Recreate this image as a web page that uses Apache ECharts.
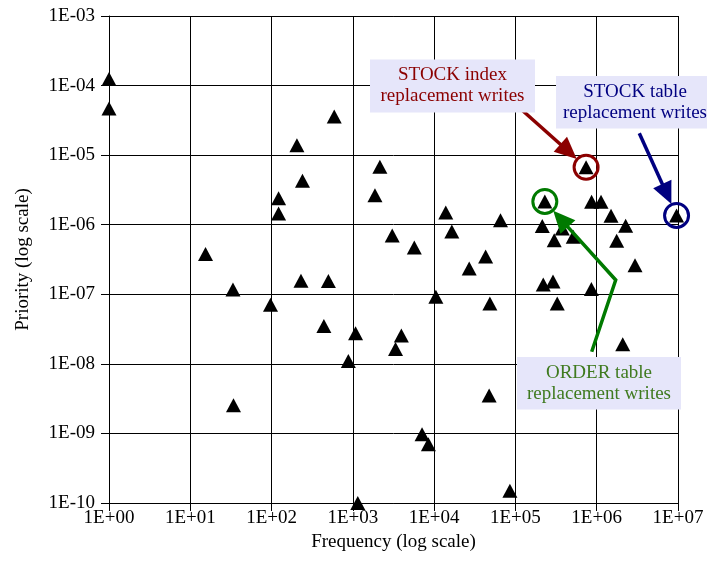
<!DOCTYPE html>
<html>
<head>
<meta charset="utf-8">
<script src="https://cdn.jsdelivr.net/npm/echarts@6/dist/echarts.min.js"></script>
<style>
  html, body { margin: 0; padding: 0; background: #ffffff; }
  #chart { width: 707px; height: 567px; }
</style>
</head>
<body>
<div id="chart"></div>
<script>
// Frequency of each access class (x) and its replacement priority (y)
const frequency = [
  1, 1, 590, 205, 240, 122, 122, 2150, 1870, 15.4,
  3050, 5700, 33.5, 97, 230, 500, 440, 1080, 880, 34,
  1150, 13900, 16500, 65500, 43000, 27000, 10500, 48500, 3950, 3350,
  47500, 7100, 8500, 85500, 7.4e5, 2.3e5, 9.6e6, 8.65e5, 1.13e6, 1.5e6,
  2.27e6, 1.76e6, 2.14e5, 3.77e5, 3.0e5, 5.14e5, 2.96e6, 2.2e5, 2.9e5, 8.6e5,
  3.27e5, 2.09e6
];
const priority = [
  1.24e-4, 4.7e-5, 3.6e-5, 1.39e-5, 4.3e-6, 2.4e-6, 1.45e-6, 6.8e-6, 2.65e-6, 3.8e-7,
  7.0e-7, 4.7e-7, 1.17e-7, 7.1e-8, 1.56e-7, 1.55e-7, 3.5e-8, 2.75e-8, 1.1e-8, 2.55e-9,
  1.0e-10, 1.5e-6, 8.0e-7, 1.16e-6, 3.5e-7, 2.35e-7, 9.2e-8, 7.4e-8, 2.55e-8, 1.63e-8,
  3.5e-9, 9.7e-10, 7.0e-10, 1.5e-10, 6.7e-6, 2.16e-6, 1.36e-6, 2.14e-6, 2.14e-6, 1.35e-6,
  9.7e-7, 5.86e-7, 9.6e-7, 8.8e-7, 6.0e-7, 6.7e-7, 2.62e-7, 1.38e-7, 1.53e-7, 1.19e-7,
  7.4e-8, 1.92e-8
];

// Tick labels, indexed by decade exponent
const xTickLabels = ['1E+00', '1E+01', '1E+02', '1E+03', '1E+04', '1E+05', '1E+06', '1E+07'];
const yTickLabels = ['1E-10', '1E-09', '1E-08', '1E-07', '1E-06', '1E-05', '1E-04', '1E-03'];

// Highlighted points (index into the data) with their callout text
const calloutPoint = [34, 36, 35];
const calloutText = [
  ['STOCK index', 'replacement writes'],
  ['STOCK table', 'replacement writes'],
  ['ORDER table', 'replacement writes']
];
const calloutColor = ['#8b0000', '#000080', '#007a00'];
const calloutTextColor = ['#8b0000', '#000080', '#3f7a1f'];

const FONT = '"Liberation Serif", "Times New Roman", serif';

const chart = echarts.init(document.getElementById('chart'), null, { renderer: 'canvas' });

const points = frequency.map((f, i) => [f, priority[i]]);

chart.setOption({
  animation: false,
  backgroundColor: '#ffffff',
  grid: { left: 109, right: 29, top: 16, bottom: 64, containLabel: false },
  xAxis: {
    type: 'log',
    logBase: 10,
    min: 1,
    max: 1e7,
    splitNumber: 7,
    name: 'Frequency (log scale)',
    nameLocation: 'middle',
    nameGap: 29,
    nameTextStyle: { fontFamily: FONT, fontSize: 19, color: '#000' },
    axisLine: { show: true, lineStyle: { color: '#000', width: 1 } },
    axisTick: { show: true, inside: false, length: 8, lineStyle: { color: '#000' } },
    axisLabel: {
      fontFamily: FONT, fontSize: 19, color: '#000', margin: 6,
      showMinLabel: true, showMaxLabel: true,
      formatter: v => xTickLabels[Math.round(Math.log10(v))]
    },
    splitLine: { show: true, lineStyle: { color: '#000', width: 1 } },
    minorTick: { show: false },
    minorSplitLine: { show: false }
  },
  yAxis: {
    type: 'log',
    logBase: 10,
    min: 1e-10,
    max: 1e-3,
    splitNumber: 7,
    name: 'Priority (log scale)',
    nameLocation: 'middle',
    nameGap: 76,
    nameRotate: 90,
    nameTextStyle: { fontFamily: FONT, fontSize: 19, color: '#000' },
    axisLine: { show: true, lineStyle: { color: '#000', width: 1 } },
    axisTick: { show: true, inside: false, length: 8, lineStyle: { color: '#000' } },
    axisLabel: {
      fontFamily: FONT, fontSize: 19, color: '#000', margin: 14,
      showMinLabel: true, showMaxLabel: true,
      formatter: v => yTickLabels[Math.round(Math.log10(v)) + 10]
    },
    splitLine: { show: true, lineStyle: { color: '#000', width: 1 } }
  },
  series: [{
    type: 'scatter',
    data: points,
    symbol: 'triangle',
    symbolSize: [15, 14],
    itemStyle: { color: '#000000', opacity: 1 },
    emphasis: { disabled: true },
    clip: false,
    z: 5
  }]
});

// Callout geometry (pixels): box, arrow path start and optional elbow
const boxes = [
  { x: 370, y: 59.5, w: 165, h: 53, cx: 452.5, base: 81.7 },
  { x: 556, y: 76, w: 170, h: 52.5, cx: 635, base: 98.3 },
  { x: 517, y: 357, w: 164, h: 52.5, cx: 599, base: 379.3 }
];
const arrowPaths = [
  [[518, 106.5]],
  [[639.3, 133.3]],
  [[591.7, 351.7], [615.7, 280]]
];

const R = 12;
const graphics = [];

calloutPoint.forEach((idx, k) => {
  const c = chart.convertToPixel({ gridIndex: 0 }, points[idx]);
  const col = calloutColor[k];
  // ring around the highlighted point
  graphics.push({
    type: 'circle', z: 20,
    shape: { cx: c[0], cy: c[1], r: R },
    style: { fill: null, stroke: col, lineWidth: 3 }
  });
  // arrow ending on the ring
  const path = arrowPaths[k];
  const prev = path[path.length - 1];
  let dx = c[0] - prev[0], dy = c[1] - prev[1];
  const len = Math.hypot(dx, dy);
  const ux = dx / len, uy = dy / len;
  const tip = [c[0] - ux * (R + 0.5), c[1] - uy * (R + 0.5)];
  const headLen = 22, halfW = 10;
  const base = [tip[0] - ux * headLen, tip[1] - uy * headLen];
  const px = -uy, py = ux;
  graphics.push({
    type: 'polyline', z: 15,
    shape: { points: path.concat([[base[0] + ux * 3, base[1] + uy * 3]]) },
    style: { stroke: col, lineWidth: 3.5, fill: null, lineJoin: 'miter' }
  });
  graphics.push({
    type: 'polygon', z: 15,
    shape: { points: [tip, [base[0] + px * halfW, base[1] + py * halfW], [base[0] - px * halfW, base[1] - py * halfW]] },
    style: { fill: col }
  });
  // text box
  const b = boxes[k];
  graphics.push({
    type: 'rect', z: 18,
    shape: { x: b.x, y: b.y, width: b.w, height: b.h },
    style: { fill: '#e6e6fa' }
  });
  calloutText[k].forEach((line, j) => {
    graphics.push({
      type: 'text', z: 19,
      x: b.cx, y: b.base + j * 21 - 6.5,
      style: {
        text: line, fill: calloutTextColor[k],
        font: '19px ' + FONT, align: 'center', verticalAlign: 'middle'
      }
    });
  });
});

chart.setOption({ graphic: { elements: graphics } });
</script>
</body>
</html>
